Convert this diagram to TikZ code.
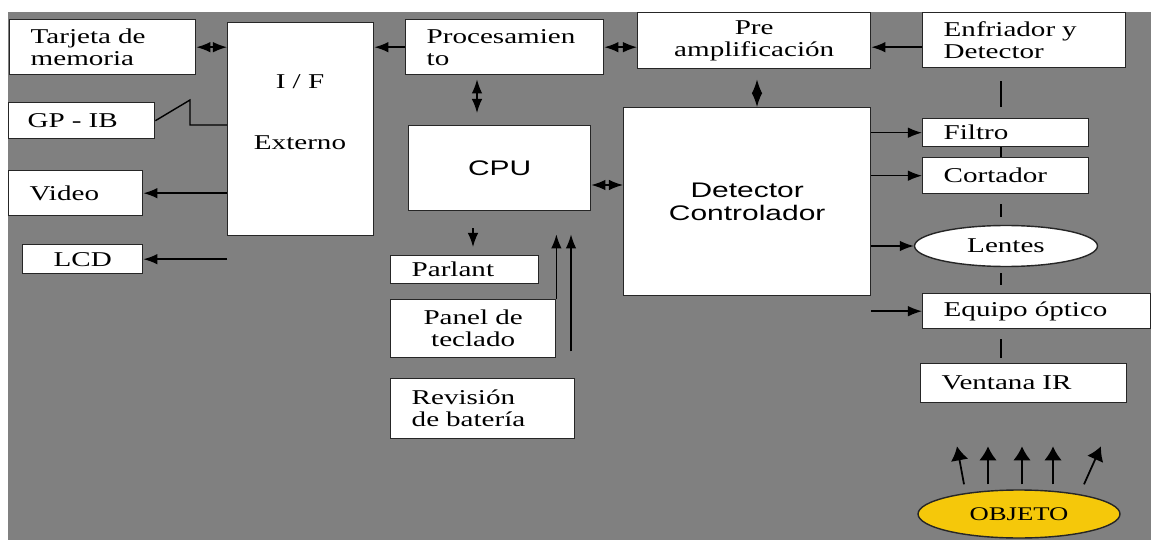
\documentclass[tikz,border=0pt]{standalone}
\usepackage{fontspec}
\setmainfont{Liberation Serif}[FakeStretch=1.38]
\newfontfamily\sanswide{Liberation Sans}[FakeStretch=1.42]
\usetikzlibrary{shapes.geometric,arrows.meta}
\definecolor{fondo}{RGB}{128,128,128}
\definecolor{amarillo}{RGB}{245,200,10}

\begin{document}
\begin{tikzpicture}[>={Latex[length=8pt,width=6pt]}, x=0.02cm, y=-0.02cm,
  box/.style={draw=black!85, line width=0.8pt, fill=white, anchor=north west,
    inner xsep=0.42cm, inner ysep=0pt, align=left,
    font=\fontsize{12}{12.5}\selectfont},
  cbox/.style={box, inner xsep=0pt, align=center},
  every path/.style={line width=0.8pt}]

  % Background
  \fill[white] (0,0) rectangle (1151,540);
  \fill[fondo] (8,12) rectangle (1151,540);
  \useasboundingbox (0,0) rectangle (1151,540);

  % Left nodes
  \node[box, text width=2.88cm, minimum height=1.1cm] (tarjeta) at (9,19) {Tarjeta de\\memoria};
  \node[box, text width=2.16cm, inner xsep=0.38cm, minimum height=0.72cm] (gpib) at (8,102) {GP - IB};
  \node[box, text width=1.84cm, minimum height=0.9cm] (video) at (8,170) {Video};
  \node[cbox, minimum width=2.4cm, minimum height=0.58cm] (lcd) at (22,244) {LCD};
  \node[cbox, minimum width=2.92cm, minimum height=4.26cm] (interfaz) at (227,22) {};
  \node[font=\fontsize{12}{12.5}\selectfont, align=center] (iftexto) at (300,112) {I / F\\[0.78cm]Externo};

  % Middle nodes
  \node[box, text width=3.12cm, minimum height=1.1cm] (proc) at (405,19) {Procesamien\\to};
  \node[cbox, minimum width=4.66cm, minimum height=1.12cm] (pre) at (637,12) {Pre\\amplificación};
  \node[cbox, minimum width=3.64cm, minimum height=1.7cm, font=\sanswide\fontsize{12}{13}\selectfont] (cpu) at (408,125) {CPU};
  \node[cbox, minimum width=4.94cm, minimum height=3.76cm, font=\sanswide\fontsize{12}{13}\selectfont] (detector) at (623,107) {Detector\\Controlador};
  \node[box, text width=2.12cm, minimum height=0.56cm] (parlante) at (390,255) {Parlant};
  \node[cbox, minimum width=3.3cm, minimum height=1.16cm] (panel) at (390,299) {Panel de\\teclado};
  \node[box, text width=2.84cm, minimum height=1.2cm] (revision) at (390,378) {Revisión\\de batería};

  % Right nodes
  \node[box, text width=3.22cm, minimum height=1.1cm] (enfriador) at (922,12) {Enfriador y\\Detector};
  \node[box, text width=2.48cm, minimum height=0.56cm] (filtro) at (922,118) {Filtro};
  \node[box, text width=2.48cm, minimum height=0.72cm] (cortador) at (922,157) {Cortador};
  \node[ellipse, draw=black!85, fill=white, inner sep=0pt, minimum width=3.66cm, minimum height=0.82cm,
    font=\fontsize{12}{12.5}\selectfont] (lentes) at (1006,246) {Lentes};
  \node[box, text width=3.72cm, minimum height=0.7cm] (equipo) at (922,293) {Equipo óptico};
  \node[box, text width=3.28cm, minimum height=0.78cm] (ventana) at (920,363) {Ventana IR};
  \node[ellipse, draw=black!85, fill=amarillo, inner sep=0pt, minimum width=4.04cm, minimum height=0.96cm,
    font=\fontsize{11}{12}\selectfont] (objeto) at (1019,514) {OBJETO};

  % Lines to the left
  \draw[<->] (tarjeta.east) to (interfaz.west |- tarjeta.east);
  \draw[->] (proc.west) to (interfaz.east |- proc.west);
  \draw[<->] (pre.west |- proc.east) to (proc.east);
  \draw[->] (enfriador.west |- proc.east) to (pre.east |- proc.east);
  \coordinate (gpcodo) at (190,100);
  \draw[-] (gpib.east) to (gpcodo) to ++(0,25) to (interfaz.west |- 0,125);
  \draw[->] (interfaz.west |- video.east) to (video.east);
  \draw[->] (interfaz.south west |- lcd.east) to (lcd.east);

  % Lines around the CPU
  \draw[<->, shorten <=0.08cm, shorten >=0.24cm] (proc.south -| 477,0) to (cpu.north -| 477,0);
  \draw[<->] (cpu.east |- 0,185) to (detector.west |- 0,185);
  \draw[<->, shorten <=0.2cm] (pre.south -| 757,0) to (detector.north -| 757,0);
  \draw[->, shorten <=0.34cm, shorten >=0.16cm] (cpu.south -| 473,0) to (parlante.north -| 473,0);
  \draw[->, shorten >=0.46cm] (panel.north east) to (cpu.south -| panel.north east);
  \draw[->, shorten <=0.14cm, shorten >=0.46cm] (panel.south east -| 571,0) to (cpu.south -| 571,0);

  % Lines to the optics
  \draw[->] (detector.east |- filtro.west) to (filtro.west);
  \draw[->] (detector.east |- cortador.west) to (cortador.west);
  \draw[->] (detector.east |- lentes.west) to (lentes.west);
  \draw[->] (detector.east |- equipo.west) to (equipo.west);
  \draw[-, shorten <=0.26cm, shorten >=0.22cm] (enfriador.south -| 1001,0) to (filtro.north -| 1001,0);
  \draw[-] (filtro.south -| 1001,0) to (cortador.north -| 1001,0);
  \draw[-, shorten <=0.2cm, shorten >=0.16cm] (cortador.south -| 1001,0) to (lentes.north -| 1001,0);
  \draw[-, shorten <=0.12cm, shorten >=0.16cm] (lentes.south -| 1001,0) to (equipo.north -| 1001,0);
  \draw[-, shorten <=0.2cm, shorten >=0.1cm] (equipo.south -| 1001,0) to (ventana.north -| 1001,0);

  % Rays from the object
  \foreach \dx/\dt in {-55/-7, -31/0, 3/0, 34/0, 65/17}
    \draw[-{Latex[length=8pt,width=10pt]}, line width=1pt] (objeto.north) ++(\dx,-5) to ++(\dt,-38);

\end{tikzpicture}
\end{document}
